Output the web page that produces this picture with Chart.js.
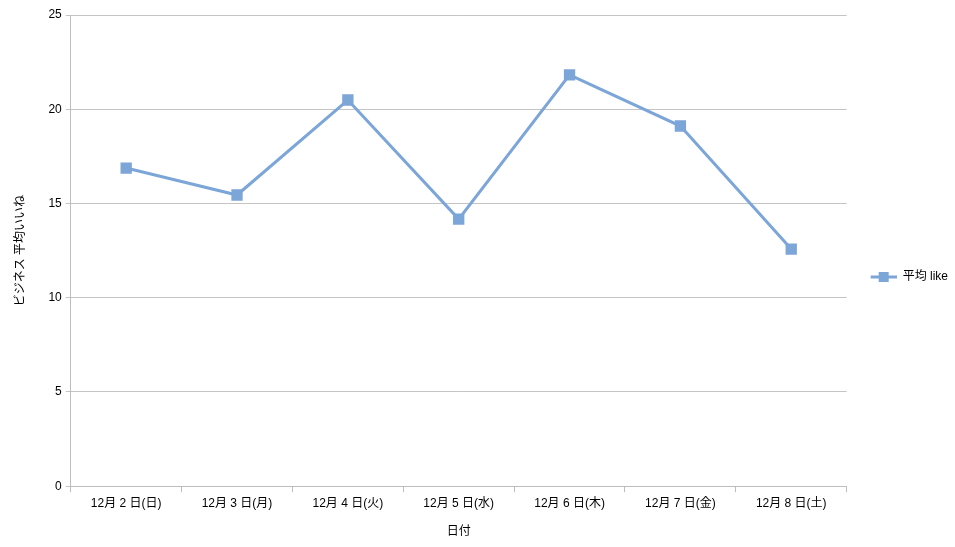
<!DOCTYPE html>
<html>
<head>
<meta charset="utf-8">
<script src="https://cdn.jsdelivr.net/npm/chart.js@4/dist/chart.umd.min.js"></script>
<style>
  html, body { margin: 0; padding: 0; background: #fff; }
  #wrap { width: 955px; height: 547px; }
</style>
</head>
<body>
<div id="wrap"><canvas id="likesChart" width="955" height="547"></canvas></div>
<script>
const dates = ["12月 2 日(日)", "12月 3 日(月)", "12月 4 日(火)", "12月 5 日(水)", "12月 6 日(木)", "12月 7 日(金)", "12月 8 日(土)"];
const avgLikes = [16.88, 15.45, 20.49, 14.17, 21.82, 19.11, 12.58];
const yTicks = [0, 5, 10, 15, 20, 25];

const lineColor = "rgb(124, 165, 216)";
const fontFamily = "'Liberation Sans', 'Noto Sans CJK JP', sans-serif";

// legend marker: short line with a square on it (left part left empty as spacing)
let marker = document.createElement("canvas");
marker.width = 36;
marker.height = 12;
let mctx = marker.getContext("2d");
mctx.strokeStyle = lineColor;
mctx.lineWidth = 3;
mctx.beginPath();
mctx.moveTo(10, 6);
mctx.lineTo(36, 6);
mctx.stroke();
mctx.fillStyle = lineColor;
mctx.fillRect(18, 1, 10, 10);

Chart.defaults.font.family = fontFamily;
Chart.defaults.font.size = 12;
Chart.defaults.color = "#000";

let ctx = document.getElementById("likesChart").getContext("2d");
let likesChart = new Chart(ctx, {
  type: "line",
  data: {
    labels: dates,
    datasets: [
      {
        label: "平均 like",
        data: avgLikes,
        borderColor: lineColor,
        backgroundColor: lineColor,
        borderWidth: 3,
        pointStyle: "rect",
        pointRadius: 8,
        pointHoverRadius: 8,
        pointBorderWidth: 0,
        tension: 0,
      },
    ],
  },
  options: {
    responsive: false,
    animation: false,
    layout: { padding: { top: 15, right: -3, bottom: 8, left: 13 } },
    plugins: {
      tooltip: { enabled: false },
      legend: {
        position: "right",
        labels: {
          usePointStyle: true,
          pointStyle: marker,
          pointStyleWidth: 36,
          font: { size: 12 },
          padding: 14,
          generateLabels: (chart) => [{
            text: chart.data.datasets[0].label,
            pointStyle: marker,
            fillStyle: lineColor,
            strokeStyle: lineColor,
            lineWidth: 0,
            datasetIndex: 0,
          }],
        },
      },
    },
    scales: {
      x: {
        offset: true,
        grid: {
          offset: true,
          drawOnChartArea: false,
          drawTicks: true,
          tickLength: 6,
          color: "#bdbdbd",
        },
        border: { color: "#bdbdbd", width: 1 },
        ticks: { padding: 4, maxRotation: 0, autoSkip: false },
        title: { display: true, text: "日付", padding: { top: 10, bottom: 0 } },
      },
      y: {
        min: 0,
        max: 25,
        afterBuildTicks: (axis) => { axis.ticks = yTicks.map((v) => ({ value: v })); },
        grid: { color: "#c4c4c4", tickLength: 5 },
        border: { color: "#bdbdbd", width: 1 },
        ticks: { padding: 4 },
        title: { display: true, text: "ビジネス 平均いいね", padding: { top: 0, bottom: 17 } },
      },
    },
  },
});
</script>
</body>
</html>
